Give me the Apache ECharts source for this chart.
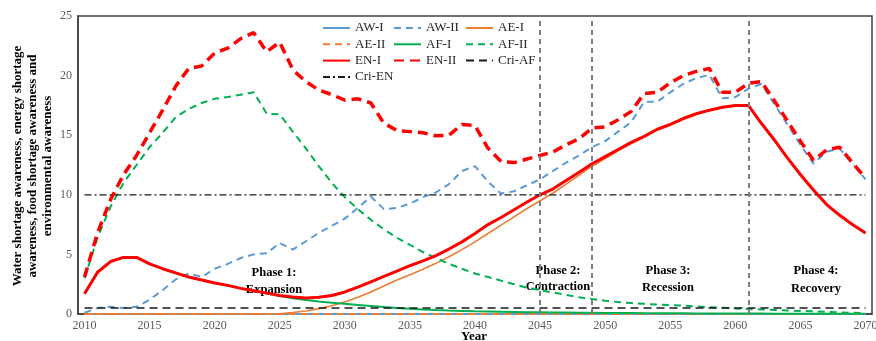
<!DOCTYPE html>
<html>
<head>
<meta charset="utf-8">
<script src="https://cdn.jsdelivr.net/npm/echarts@6/dist/echarts.min.js"></script>
<style>
  html, body { margin: 0; padding: 0; background: #fff; }
  #chart { width: 876px; height: 341px; }
</style>
</head>
<body>
<div id="chart"></div>
<script>
// Simulation years
const years = [
  '2010','2011','2012','2013','2014','2015','2016','2017','2018','2019',
  '2020','2021','2022','2023','2024','2025','2026','2027','2028','2029',
  '2030','2031','2032','2033','2034','2035','2036','2037','2038','2039',
  '2040','2041','2042','2043','2044','2045','2046','2047','2048','2049',
  '2050','2051','2052','2053','2054','2055','2056','2057','2058','2059',
  '2060','2061','2062','2063','2064','2065','2066','2067','2068','2069','2070'
];

// Water shortage awareness
const awI = [
  0,0,0,0,0,0,0,0,0,0,
  0,0,0,0,0,0,0,0,0,0,
  0,0,0,0,0,0,0,0,0,0,
  0,0,0,0,0,0,0,0,0,0,
  0,0,0,0,0,0,0,0,0,0,
  0,0,0,0,0,0,0,0,0,0,0
];
const awII = [
  0.1,0.5,0.6,0.5,0.6,1.2,2.0,2.9,3.4,3.1,
  3.8,4.2,4.7,5.0,5.1,5.95,5.4,6.1,6.8,7.4,
  8.0,8.9,9.85,8.8,8.9,9.25,9.8,10.2,10.9,12.0,
  12.4,11.1,10.1,10.3,10.8,11.3,12.0,12.7,13.3,14.0,
  14.5,15.3,16.1,17.8,17.8,18.6,19.3,19.8,20.05,18.1,
  18.2,18.9,19.3,17.6,15.9,14.2,12.6,13.6,13.9,12.6,11.3
];

// Energy shortage awareness
const aeI = [
  0,0,0,0,0,0,0,0,0,0,
  0,0,0,0,0,0.02,0.12,0.25,0.45,0.7,
  1.0,1.4,1.85,2.35,2.85,3.3,3.75,4.25,4.8,5.4,
  6.05,6.75,7.45,8.15,8.85,9.5,10.15,10.9,11.65,12.4,
  13.05,13.7,14.3,14.85,15.45,15.85,16.35,16.75,17.05,17.3,
  17.45,17.45,15.95,14.55,13.05,11.65,10.35,9.15,8.25,7.45,6.75
];
const aeII = [
  0,0,0,0,0,0,0,0,0,0,
  0,0,0,0,0,0,0,0,0,0,
  0,0,0,0,0,0,0,0,0,0,
  0,0,0,0,0,0,0,0,0,0,
  0,0,0,0,0,0,0,0,0,0,
  0,0,0,0,0,0,0,0,0,0,0
];

// Food shortage awareness
const afI = [
  1.7,3.5,4.4,4.75,4.75,4.2,3.8,3.45,3.1,2.85,
  2.6,2.4,2.15,1.95,1.72,1.5,1.33,1.18,1.05,0.95,
  0.85,0.76,0.67,0.58,0.5,0.44,0.38,0.33,0.29,0.26,
  0.23,0.21,0.19,0.17,0.15,0.14,0.13,0.12,0.11,0.1,
  0.09,0.08,0.08,0.07,0.07,0.06,0.06,0.05,0.05,0.05,
  0.04,0.04,0.04,0.03,0.03,0.03,0.03,0.02,0.02,0.02,0.02
];
const afII = [
  3.0,6.4,9.0,11.0,12.5,14.0,15.2,16.5,17.2,17.7,
  18.05,18.2,18.4,18.6,16.8,16.75,15.3,13.9,12.4,11.0,
  9.8,8.8,7.9,7.1,6.4,5.8,5.2,4.7,4.2,3.8,
  3.4,3.1,2.8,2.5,2.2,2.0,1.8,1.6,1.4,1.25,
  1.12,1.0,0.92,0.85,0.8,0.75,0.7,0.63,0.57,0.52,
  0.47,0.42,0.38,0.34,0.3,0.26,0.22,0.18,0.14,0.1,0.06
];

// Environmental awareness
const enI = [
  1.7,3.5,4.4,4.75,4.75,4.2,3.8,3.45,3.1,2.85,
  2.6,2.4,2.15,1.95,1.75,1.55,1.42,1.35,1.4,1.55,
  1.85,2.25,2.7,3.15,3.6,4.05,4.45,4.9,5.45,6.05,
  6.75,7.5,8.1,8.75,9.4,10.0,10.5,11.2,11.9,12.6,
  13.2,13.8,14.4,14.9,15.5,15.9,16.4,16.8,17.1,17.35,
  17.5,17.5,16.0,14.6,13.1,11.7,10.4,9.2,8.3,7.5,6.8
];
const enII = [
  3.1,6.8,9.6,11.7,13.3,15.2,17.1,19.1,20.6,20.8,
  21.9,22.3,23.1,23.6,22.0,22.8,20.5,19.5,18.8,18.4,
  17.95,18.05,17.7,16.0,15.4,15.3,15.2,14.95,15.0,15.9,
  15.8,13.9,12.8,12.7,13.0,13.3,13.6,14.2,14.7,15.6,
  15.7,16.3,17.0,18.5,18.6,19.4,20.0,20.35,20.6,18.6,
  18.6,19.35,19.5,17.9,16.2,14.5,12.9,13.75,14.0,12.7,11.4
];

// Critical thresholds
const criAF = 0.5;
const criEN = 10;

// Phase boundaries and phase captions
const phaseYears = ['2045', '2049', '2061'];
const phaseTitles = ['Phase 1:', 'Phase 2:', 'Phase 3:', 'Phase 4:'];
const phaseNames = ['Expansion', 'Contraction', 'Recession', 'Recovery'];

const yTicks = { min: 0, max: 25, interval: 5 };

const BLUE = '#5B9BD5', ORANGE = '#ED7D31', GREEN = '#00B050', RED = '#FF0000';
const SERIF = '"Liberation Serif", "Times New Roman", serif';

function lineSeries(name, data, color, width, type, z) {
  return {
    name: name, type: 'line', data: data, symbol: 'none', showSymbol: false,
    lineStyle: { color: color, width: width, type: type },
    itemStyle: { color: color },
    z: z, animation: false
  };
}

const series = [
  lineSeries('AW-I', awI, BLUE, 2, 'solid', 2),
  lineSeries('AW-II', awII, BLUE, 2, [7, 5], 2),
  lineSeries('AE-I', aeI, ORANGE, 1.6, 'solid', 2),
  lineSeries('AE-II', aeII, ORANGE, 2, [7, 5], 2),
  lineSeries('AF-I', afI, GREEN, 2, 'solid', 2),
  lineSeries('AF-II', afII, GREEN, 2, [7, 5], 2),
  lineSeries('EN-I', enI, RED, 3, 'solid', 3),
  lineSeries('EN-II', enII, RED, 3.5, [10, 6], 3),
  lineSeries('Cri-AF', years.map(() => criAF), '#1a1a1a', 1.5, [8, 5], 4),
  lineSeries('Cri-EN', years.map(() => criEN), '#1a1a1a', 1.2, [7, 3, 2, 3], 4)
];

// dashed phase boundaries
series[9].markLine = {
  silent: true, symbol: 'none', animation: false,
  label: { show: false },
  lineStyle: { color: '#7f7f7f', width: 2, type: [5, 4] },
  data: phaseYears.map(y => ({ xAxis: y }))
};

const legendText = { fontFamily: SERIF, fontSize: 13, color: '#262626' };
function legendColumn(left, names) {
  return {
    data: names, orient: 'vertical', left: left, top: 16.5,
    itemWidth: 27, itemHeight: 12, itemGap: 3.3, textStyle: legendText,
    itemStyle: { opacity: 0 },
    selectedMode: false
  };
}

const boldText = (size) => 'bold ' + size + 'px ' + SERIF;

const chart = echarts.init(document.getElementById('chart'), null, { renderer: 'canvas' });
chart.setOption({
  animation: false,
  backgroundColor: '#fff',
  grid: {
    left: 78, right: 4, top: 16, bottom: 27, containLabel: false, outerBoundsMode: 'none',
    show: true, borderColor: '#404040', borderWidth: 1.5
  },
  legend: [
    legendColumn(317, ['AW-I', 'AE-II', 'EN-I', 'Cri-EN']),
    legendColumn(388, ['AW-II', 'AF-I', 'EN-II']),
    legendColumn(460, ['AE-I', 'AF-II', 'Cri-AF'])
  ],
  xAxis: {
    type: 'category', data: years, boundaryGap: true,
    axisLine: { lineStyle: { color: '#404040', width: 1.5 } },
    axisTick: { show: false },
    axisLabel: { interval: 4, fontFamily: SERIF, fontSize: 12, color: '#595959', margin: 6 },
    splitLine: { show: false }
  },
  yAxis: {
    type: 'value', min: yTicks.min, max: yTicks.max, interval: yTicks.interval,
    axisLine: { show: true, lineStyle: { color: '#404040', width: 1.5 } },
    axisTick: { show: false },
    axisLabel: { fontFamily: SERIF, fontSize: 12, color: '#595959', margin: 6 },
    splitLine: { show: false }
  },
  graphic: [
    {
      type: 'text', x: 33, y: 166, rotation: Math.PI / 2,
      style: {
        text: 'Water shortage awareness, energy shortage\nawareness, food shortage awareness and\nenvironmental awareness',
        font: boldText(13), fill: '#000', align: 'center', verticalAlign: 'middle', lineHeight: 15
      }
    },
    { type: 'text', x: 474, y: 337, style: { text: 'Year', font: boldText(13), fill: '#000', align: 'center', verticalAlign: 'middle' } },
    { type: 'text', x: 274, y: 281, style: { text: phaseTitles[0] + '\n' + phaseNames[0], font: boldText(12.5), fill: '#000', align: 'center', verticalAlign: 'middle', lineHeight: 17 } },
    { type: 'text', x: 558, y: 279, style: { text: phaseTitles[1] + '\n' + phaseNames[1], font: boldText(12.5), fill: '#000', align: 'center', verticalAlign: 'middle', lineHeight: 16 } },
    { type: 'text', x: 668, y: 279, style: { text: phaseTitles[2] + '\n' + phaseNames[2], font: boldText(12.5), fill: '#000', align: 'center', verticalAlign: 'middle', lineHeight: 17 } },
    { type: 'text', x: 816, y: 280, style: { text: phaseTitles[3] + '\n' + phaseNames[3], font: boldText(12.5), fill: '#000', align: 'center', verticalAlign: 'middle', lineHeight: 18 } }
  ],
  series: series
});
</script>
</body>
</html>
